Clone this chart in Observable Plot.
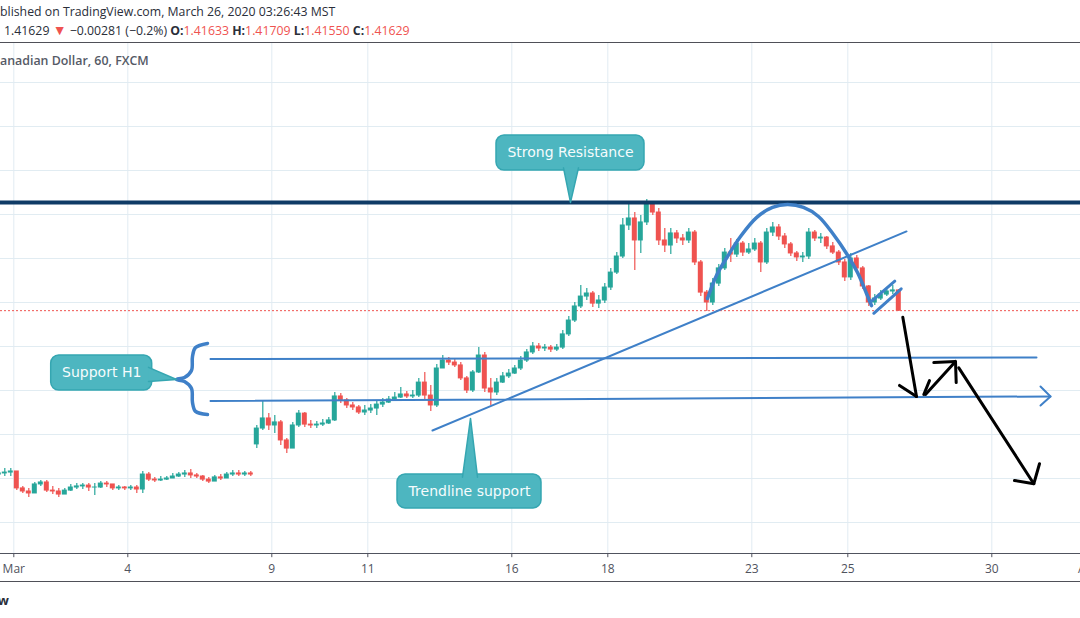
<!DOCTYPE html>
<html><head><meta charset="utf-8">
<script src="https://cdn.jsdelivr.net/npm/d3@7"></script>
<script src="https://cdn.jsdelivr.net/npm/@observablehq/plot@0.6"></script>
<style>
html,body{margin:0;padding:0;background:#fff;width:1080px;height:618px;overflow:hidden;}
#header{position:relative;height:42px;border-bottom:1px solid #4f5058;overflow:hidden;font-family:"Open Sans",sans-serif;font-size:12.3px;color:#2a2e39;}
.ln{position:absolute;white-space:nowrap;line-height:18px;}
.red{color:#ef5350;}
b{font-weight:700;}
#chartwrap{position:relative;height:538px;overflow:hidden;}
#title{position:absolute;top:9px;white-space:nowrap;font-family:"Open Sans",sans-serif;font-size:12.4px;font-weight:600;color:#555a66;line-height:18px;}
#footer{position:relative;height:36px;border-top:1px solid #4f5058;overflow:hidden;font-family:"Open Sans",sans-serif;font-size:13px;font-weight:700;color:#2a2e39;}
#footer span{position:absolute;right:1071px;top:9px;white-space:nowrap;}
</style></head><body>
<div id="header">
  <div class="ln" id="line1" style="top:3px;left:0"><span class="cut">Pu</span>blished on TradingView.com, March 26, 2020 03:26:43 MST</div>
  <div class="ln" id="line2" style="top:21px;left:4px">1.41629 <span class="red" style="font-size:14px">▼</span> −0.00281 (−0.2%) <b>O:</b><span class="red">1.41633</span> <b>H:</b><span class="red">1.41709</span> <b>L:</b><span class="red">1.41550</span> <b>C:</b><span class="red">1.41629</span></div>
</div>
<div id="chartwrap">
  <div id="chart"></div>
  <div id="title"><span class="cut">U.S. Dollar / C</span>anadian Dollar, 60, FXCM</div>
</div>
<div id="footer"><span>TradingView</span></div>
<script>
// ---- DATA (USD/CAD, 3-hour candles) ----
// time axis: trading hours since the Sunday Mar 1 15:00 MST session open (weekends removed)
const barHours = 3;
const firstBarHour = -9;
const firstOpen = 1.3418;
const gapBarIndex = 43;      // first bar after the Mar 6–8 weekend
const gapOpen = 1.3555;

const closes = [
1.3423,1.3427,1.3432,1.3355,1.3341,1.3332,1.3373,1.3382,1.3345,1.3341,
1.3327,1.3345,1.3359,1.3364,1.3368,1.3359,1.3359,1.3377,1.3373,1.3355,
1.3359,1.3355,1.3359,1.3350,1.3418,1.3395,1.3391,1.3395,1.3400,1.3409,
1.3418,1.3423,1.3414,1.3409,1.3395,1.3386,1.3405,1.3400,1.3418,1.3423,
1.3418,1.3423,1.3418,1.3627,1.3673,1.3641,1.3655,1.3573,1.3536,1.3641,
1.3695,1.3645,1.3641,1.3645,1.3650,1.3664,1.3773,1.3755,1.3732,1.3723,
1.3700,1.3709,1.3718,1.3736,1.3745,1.3759,1.3768,1.3782,1.3773,1.3777,
1.3836,1.3777,1.3732,1.3900,1.3936,1.3927,1.3914,1.3855,1.3800,1.3882,
1.3959,1.3809,1.3791,1.3836,1.3864,1.3877,1.3900,1.3936,1.3973,1.4000,
1.3991,1.3995,1.3986,1.3995,1.4055,1.4118,1.4182,1.4227,1.4241,1.4195,
1.4209,1.4268,1.4336,1.4409,1.4550,1.4582,1.4482,1.4564,1.4645,1.4609,
1.4482,1.4459,1.4514,1.4491,1.4482,1.4518,1.4382,1.4245,1.4200,1.4286,
1.4355,1.4427,1.4418,1.4468,1.4427,1.4441,1.4468,1.4382,1.4518,1.4541,
1.4500,1.4464,1.4423,1.4405,1.4409,1.4518,1.4491,1.4495,1.4455,1.4427,
1.4382,1.4314,1.4400,1.4355,1.4273,1.4200,1.4218,1.4236,1.4250,1.4255,1.4163];

const highs = [
1.3436,1.3445,1.3445,1.3432,1.3364,1.3355,1.3382,1.3391,1.3391,1.3364,
1.3355,1.3355,1.3373,1.3377,1.3377,1.3377,1.3377,1.3386,1.3386,1.3373,
1.3368,1.3364,1.3368,1.3368,1.3432,1.3427,1.3405,1.3409,1.3409,1.3423,
1.3427,1.3436,1.3441,1.3423,1.3414,1.3405,1.3414,1.3418,1.3427,1.3436,
1.3436,1.3432,1.3432,1.3641,1.3755,1.3695,1.3686,1.3664,1.3582,1.3655,
1.3709,1.3700,1.3664,1.3659,1.3668,1.3677,1.3791,1.3786,1.3764,1.3745,
1.3732,1.3732,1.3736,1.3755,1.3764,1.3773,1.3791,1.3814,1.3795,1.3800,
1.3855,1.3882,1.3823,1.3918,1.3959,1.3950,1.3945,1.3927,1.3864,1.3891,
1.3995,1.3973,1.3855,1.3855,1.3882,1.3895,1.3914,1.3955,1.3986,1.4018,
1.4014,1.4009,1.4005,1.4009,1.4073,1.4136,1.4200,1.4277,1.4264,1.4250,
1.4232,1.4286,1.4355,1.4427,1.4582,1.4650,1.4609,1.4595,1.4668,1.4659,
1.4627,1.4536,1.4536,1.4527,1.4509,1.4536,1.4527,1.4391,1.4255,1.4309,
1.4373,1.4445,1.4491,1.4486,1.4477,1.4468,1.4491,1.4477,1.4536,1.4564,
1.4555,1.4514,1.4473,1.4432,1.4427,1.4536,1.4527,1.4514,1.4500,1.4473,
1.4436,1.4395,1.4423,1.4414,1.4364,1.4277,1.4236,1.4255,1.4264,1.4277,1.4259];

const lows = [
1.3409,1.3409,1.3409,1.3345,1.3332,1.3314,1.3332,1.3364,1.3336,1.3327,
1.3314,1.3327,1.3341,1.3350,1.3350,1.3341,1.3323,1.3355,1.3359,1.3345,
1.3345,1.3345,1.3345,1.3332,1.3332,1.3386,1.3382,1.3386,1.3391,1.3400,
1.3405,1.3405,1.3400,1.3400,1.3386,1.3377,1.3386,1.3391,1.3400,1.3409,
1.3409,1.3409,1.3409,1.3536,1.3618,1.3618,1.3605,1.3550,1.3514,1.3536,
1.3632,1.3632,1.3627,1.3627,1.3636,1.3645,1.3659,1.3741,1.3718,1.3709,
1.3691,1.3686,1.3695,1.3686,1.3723,1.3741,1.3750,1.3764,1.3764,1.3764,
1.3768,1.3755,1.3705,1.3723,1.3900,1.3914,1.3905,1.3845,1.3786,1.3791,
1.3877,1.3791,1.3732,1.3777,1.3832,1.3855,1.3873,1.3891,1.3927,1.3964,
1.3977,1.3977,1.3973,1.3977,1.3986,1.4045,1.4109,1.4173,1.4209,1.4177,
1.4173,1.4195,1.4255,1.4327,1.4400,1.4527,1.4345,1.4423,1.4550,1.4595,
1.4459,1.4427,1.4418,1.4468,1.4459,1.4468,1.4368,1.4227,1.4159,1.4186,
1.4273,1.4345,1.4382,1.4405,1.4409,1.4418,1.4432,1.4336,1.4373,1.4500,
1.4482,1.4445,1.4409,1.4386,1.4382,1.4395,1.4477,1.4468,1.4441,1.4418,
1.4368,1.4295,1.4300,1.4336,1.4259,1.4182,1.4186,1.4209,1.4227,1.4236,1.4159];

const tickHours  = [0, 57, 129, 177, 249, 297, 369, 417, 489, 537];
const tickLabels = ["Mar", "4", "9", "11", "16", "18", "23", "25", "30", "Apr"];
const gridPrices = [1.32, 1.34, 1.36, 1.38, 1.40, 1.42, 1.44, 1.46, 1.48, 1.50, 1.52];
const lastPrice = 1.41629;
const resistancePrice = 1.4655;

// drawings (hour, price)
const supportUpper = [[98.35, 1.3943], [511.35, 1.3950]];
const supportLower = [[98.35, 1.3752], [518.35, 1.3773]];
const supportLowerHead = [[513.35, 1.3818], [518.35, 1.3773], [513.35, 1.3732]];
const trendline = [[209.35, 1.3618], [446.35, 1.4523]];
const dome = [[346.85,1.4218],[351.35,1.4323],[356.85,1.4409],[363.35,1.4500],[371.35,1.4586],[379.35,1.4632],
              [386.85,1.4645],[394.85,1.4632],[402.35,1.4591],[409.85,1.4509],[416.35,1.4423],[421.85,1.4336],
              [426.35,1.4241],[428.85,1.4186]];
const channelUpper = [[429.2, 1.4209], [440.5, 1.4297]];
const channelLower = [[430.0, 1.4151], [443.7, 1.4262]];
const brace = [[96.85,1.4014],[90.85,1.3995],[89.35,1.3955],[88.85,1.3891],[85.35,1.3859],[81.35,1.3850],
               [85.35,1.3841],[88.85,1.3809],[89.35,1.3745],[90.85,1.3705],[96.85,1.3691]];
const arrows = [
  [[444.5, 1.4133], [451.35, 1.3773]],
  [[442.85, 1.3823], [451.35, 1.3773]],
  [[455.0, 1.3782], [457.85, 1.3845]],
  [[455.85, 1.3782], [470.85, 1.3932]],
  [[460.0, 1.3927], [470.85, 1.3932], [471.2, 1.3836]],
  [[472.5, 1.3903], [510.0, 1.3376]],
  [[512.85, 1.3467], [510.0, 1.3376], [500.35, 1.3391]]
];
const callouts = [
  {text: "Strong Resistance", t1: 241.35, t2: 315.35, p1: 1.4800, p2: 1.4959,
   pointer: [[274.85, 1.4812], [278.35, 1.4655], [282.35, 1.4812]]},
  {text: "Support H1", t1: 18.7, t2: 69.2, p1: 1.3800, p2: 1.3959,
   pointer: [[67.35, 1.3905], [81.35, 1.3850], [67.35, 1.3841]]},
  {text: "Trendline support", t1: 191.85, t2: 263.85, p1: 1.3264, p2: 1.3418,
   pointer: [[224.35, 1.3406], [228.35, 1.3673], [231.85, 1.3406]]}
];

// ---- BUILD ----
const UP = "#26a69a", DOWN = "#ef5350", BLUE = "#3f80c8", TEAL = "#4db6c0", TEALB = "#35a6b1";
const candles = closes.map((c, i) => {
  const open = i === 0 ? firstOpen : (i === gapBarIndex ? gapOpen : closes[i - 1]);
  return {t: firstBarHour + i * barHours, open, close: c, high: highs[i], low: lows[i],
          color: c >= open ? UP : DOWN};
});
const ticks = tickHours.map((t, i) => ({t, label: tickLabels[i]}));
const yMin = 1.30591, yMax = 1.53773;
const px = d => d[0], py = d => d[1];
const lineMark = (data, opts) => Plot.line(data, {x: px, y: py, ...opts});

const chart = Plot.plot({
  width: 1080, height: 538,
  marginTop: 0, marginBottom: 28, marginLeft: 0, marginRight: 0,
  x: {domain: [-6.65, 533.35], axis: null},
  y: {domain: [yMin, yMax], axis: null},
  color: {type: "identity"},
  style: {fontFamily: "Open Sans, sans-serif", background: "#fff", overflow: "visible"},
  marks: [
    Plot.ruleY(gridPrices, {stroke: "#e1ecf2", strokeWidth: 1}),
    Plot.ruleX(tickHours, {stroke: "#e1ecf2", strokeWidth: 1}),
    Plot.ruleY([lastPrice], {stroke: "#ef5350", strokeWidth: 1, strokeDasharray: "2,2"}),
    Plot.ruleX(candles, {x: d => d.t + 1.5, y1: "low", y2: "high", stroke: "color", strokeWidth: 1.2}),
    Plot.rect(candles, {x1: d => d.t + 0.25, x2: d => d.t + 2.75, y1: "open", y2: "close", fill: "color",
      insetTop: -0.5, insetBottom: -0.5}),
    Plot.ruleY([resistancePrice], {stroke: "#0f3b66", strokeWidth: 4}),
    lineMark(supportUpper, {stroke: BLUE, strokeWidth: 2}),
    lineMark(supportLower, {stroke: BLUE, strokeWidth: 2}),
    lineMark(supportLowerHead, {stroke: BLUE, strokeWidth: 2}),
    lineMark(trendline, {stroke: BLUE, strokeWidth: 2}),
    lineMark(dome, {stroke: BLUE, strokeWidth: 3.5, curve: "catmull-rom"}),
    lineMark(channelUpper, {stroke: BLUE, strokeWidth: 3}),
    lineMark(channelLower, {stroke: BLUE, strokeWidth: 3}),
    lineMark(brace, {stroke: BLUE, strokeWidth: 3.5, curve: "catmull-rom", strokeLinecap: "round"}),
    ...arrows.map(a => lineMark(a, {stroke: "#000", strokeWidth: 3, strokeLinejoin: "miter"})),
    Plot.rect(callouts, {x1: "t1", x2: "t2", y1: "p1", y2: "p2", rx: 8, fill: TEAL, stroke: TEALB, strokeWidth: 1.5}),
    ...callouts.map(c => lineMark(c.pointer, {fill: TEAL, stroke: TEALB, strokeWidth: 1.5})),
    Plot.text(callouts, {x: d => (d.t1 + d.t2) / 2, y: d => (d.p1 + d.p2) / 2, text: "text",
      fill: "#f6fcfd", fontSize: 14, fontFamily: "DejaVu Sans, sans-serif"}),
    Plot.ruleY([yMin], {stroke: "#50535e", strokeWidth: 1.2}),
    Plot.ruleX(ticks, {x: "t", y1: yMin, y2: yMin - 0.0019, stroke: "#50535e", strokeWidth: 1}),
    Plot.text(ticks, {x: "t", text: "label", frameAnchor: "bottom", dy: 16, lineAnchor: "middle",
      fill: "#50535e", fontSize: 12, fontFamily: "Open Sans, sans-serif"})
  ]
});
document.getElementById("chart").appendChild(chart);

// clip the cut-off starts of the text lines as in the screenshot
document.querySelectorAll(".cut").forEach(s => {
  const w = s.getBoundingClientRect().width;
  s.parentElement.style.left = (-w) + "px";
});
</script>
</body></html>
